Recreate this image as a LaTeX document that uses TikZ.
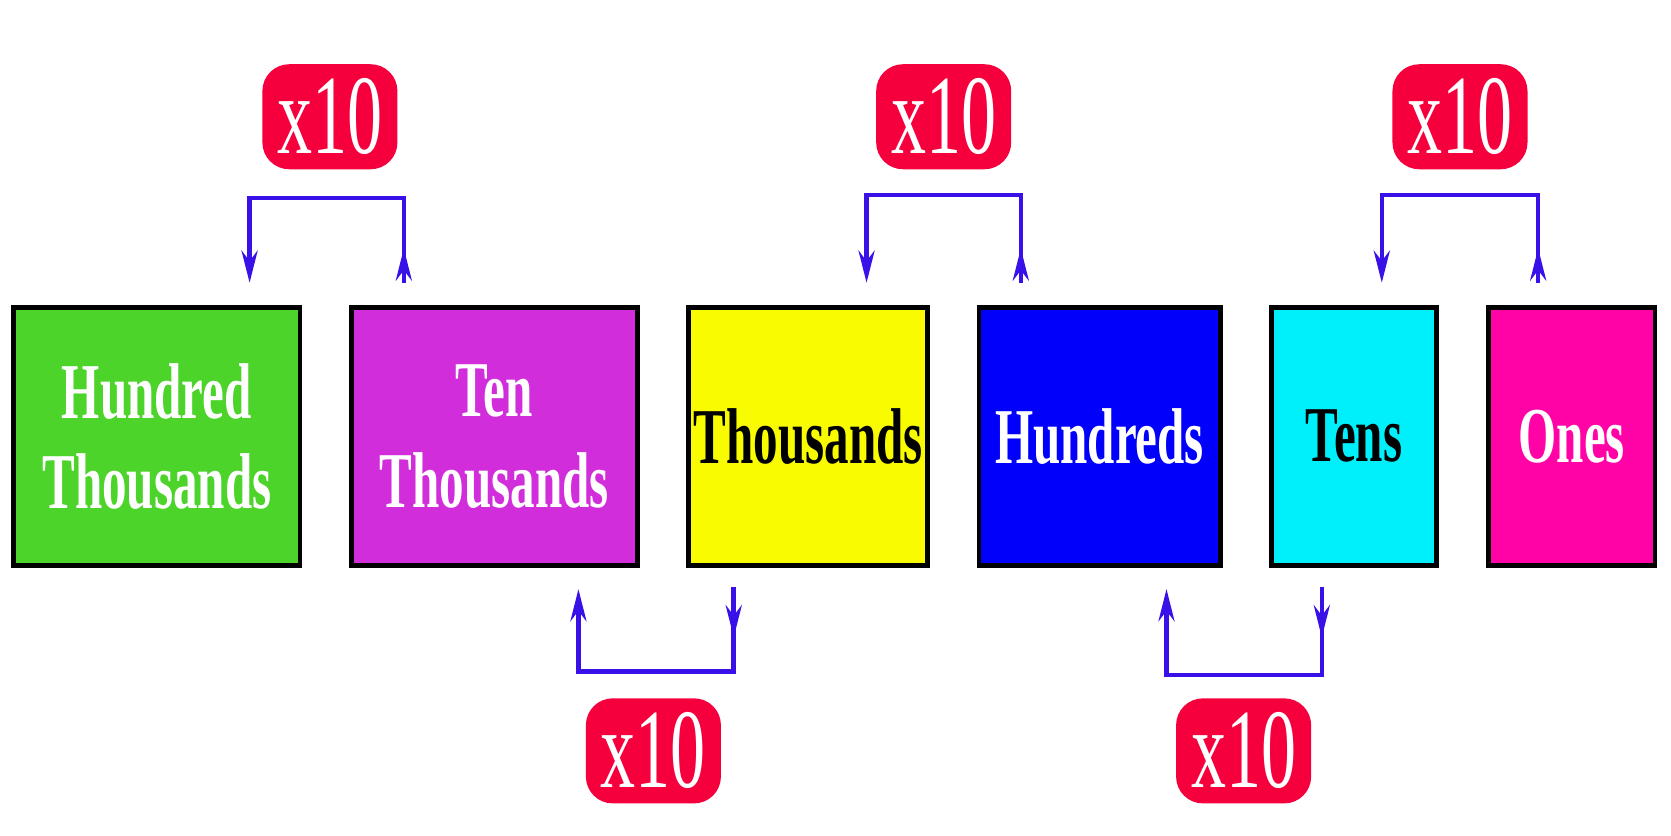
\documentclass[tikz,border=0pt]{standalone}
\usepackage{fontspec}
\setmainfont{Liberation Serif}
\usetikzlibrary{positioning, arrows.meta}

\definecolor{grn}{HTML}{4CD42A}
\definecolor{prp}{HTML}{D22DDB}
\definecolor{ylw}{HTML}{F9FB00}
\definecolor{blu}{HTML}{0000FB}
\definecolor{cyn}{HTML}{00F0FB}
\definecolor{pnk}{HTML}{FF03A6}
\definecolor{badgered}{HTML}{F5003C}
\definecolor{arrblue}{HTML}{3A10E8}

\newcommand{\cond}[1]{\scalebox{0.62}[1]{#1}}

\tikzset{
  place/.style={rectangle, draw=black, line width=1.3pt, minimum height=2.41cm, inner sep=0pt,
    font=\fontsize{21}{24}\selectfont\bfseries, align=center},
  badge/.style={rectangle, rounded corners=0.25cm, fill=badgered, text=white,
    minimum width=1.26cm, minimum height=0.98cm, font=\fontsize{30}{32}\selectfont},
  link/.style={arrblue, line width=1.2pt, -{Stealth[length=0.3cm,width=0.15cm]}}
}

\begin{document}
\begin{tikzpicture}[x=0.01cm, y=-0.01cm]
\useasboundingbox (0,0) rectangle (1560,780);

\node[place, fill=grn, text=white, minimum width=2.67cm] (hth) at (146.5,407.5) {\cond{Hundred}\\\cond{Thousands}};
\node[place, fill=prp, text=white, minimum width=2.67cm] (tth) at (461.5,407.5) {\cond{Ten}\\\cond{Thousands}};
\node[place, fill=ylw, text=black, minimum width=2.23cm] (th) at (754.5,407.5) {\cond{Thousands}};
\node[place, fill=blu, text=white, minimum width=2.25cm] (hun) at (1026.5,407.5) {\cond{Hundreds}};
\node[place, fill=cyn, text=black, minimum width=1.54cm] (ten) at (1264,407.5) {\cond{Tens}};
\node[place, fill=pnk, text=white, minimum width=1.55cm] (one) at (1467.5,407.5) {\cond{Ones}};

\node[badge] (b1) at (308,109) {\cond{x10}};
\node[badge] (b2) at (881,109) {\cond{x10}};
\node[badge] (b3) at (1363,109) {\cond{x10}};
\node[badge] (b4) at (610,701) {\cond{x10}};
\node[badge] (b5) at (1161,701) {\cond{x10}};

% top brackets
\foreach \l/\r/\y in {233/377/185, 809/953/182, 1290/1436/182} {
  \draw[link] (\r,264) -- (\r,\y) -- (\l,\y) -- (\l,264);
  \draw[link] (\r,264) -- (\r,232);
}
% bottom brackets
\foreach \l/\r/\y in {540/685/627, 1089/1234/630} {
  \draw[link] (\r,548) -- (\r,\y) -- (\l,\y) -- (\l,550);
  \draw[link] (\r,548) -- (\r,595);
}
\end{tikzpicture}
\end{document}
